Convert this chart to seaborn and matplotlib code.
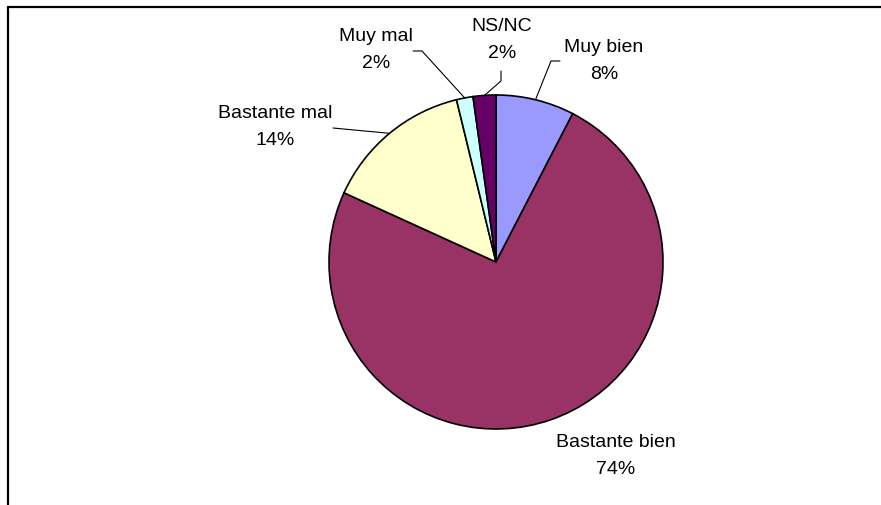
import numpy as np
import matplotlib
matplotlib.use("Agg")
import matplotlib.pyplot as plt
import seaborn as sns
from matplotlib.lines import Line2D

categories = ["Muy bien", "Bastante bien", "Bastante mal", "Muy mal", "NS/NC"]
values = [7.6, 74.2, 14.4, 1.6, 2.2]
colors = ["#9999FF", "#993366", "#FFFFCC", "#CCFFFF", "#660066"]

sns.set_theme(style="white")
plt.rcParams['font.family'] = ['Liberation Sans', 'DejaVu Sans']

W, H = 881, 506
cx, cy, R = 496, 263, 167


def px(x, y):
    # pixel (from top-left) -> data coords (pie radius 1)
    return (x - cx) / R, (cy - y) / R


fig = plt.figure(figsize=(W / 100, H / 100), dpi=100)
ax = fig.add_axes([0, 0, 1, 1])

wedges, _ = ax.pie(values, colors=colors, startangle=90, counterclock=False,
                   wedgeprops=dict(edgecolor="black", linewidth=1.2))
ax.set_aspect("auto")
ax.set_xlim(-cx / R, (W - cx) / R)
ax.set_ylim(-(H - cy) / R, cy / R)
ax.axis("off")

# label centres and leader-line elbows (pixels)
label_pos = {
    "Muy bien": (604, 61),
    "Bastante bien": (616, 456),
    "Bastante mal": (275, 127),
    "Muy mal": (376, 50),
    "NS/NC": (502, 40),
}
elbows = {
    "Muy bien": [(551, 62), (560, 62)],
    "NS/NC": [(501, 82), (501, 72)],
    "Muy mal": [(422, 52), (413, 52)],
    "Bastante mal": [(333, 129)],
}

for w, name, v in zip(wedges, categories, values):
    ang = np.deg2rad((w.theta1 + w.theta2) / 2)
    ex, ey = np.cos(ang), np.sin(ang)
    if name in elbows:
        pts = [(ex, ey)] + [px(*p) for p in elbows[name]]
        xs, ys = zip(*pts)
        ax.plot(xs, ys, color="black", lw=0.8)
    tx, ty = px(*label_pos[name])
    ax.text(tx, ty, f"{name}\n{v:.0f}%", ha="center", va="center",
            fontsize=14, linespacing=1.72, color="black")

# chart frame (top and left edges visible)
fig.add_artist(Line2D([8 / W, 1], [1 - 8 / H, 1 - 8 / H], transform=fig.transFigure,
                      color="black", lw=1.6))
fig.add_artist(Line2D([8 / W, 8 / W], [0, 1 - 8 / H], transform=fig.transFigure,
                      color="black", lw=1.6))

fig.savefig("out.png", dpi=100)
